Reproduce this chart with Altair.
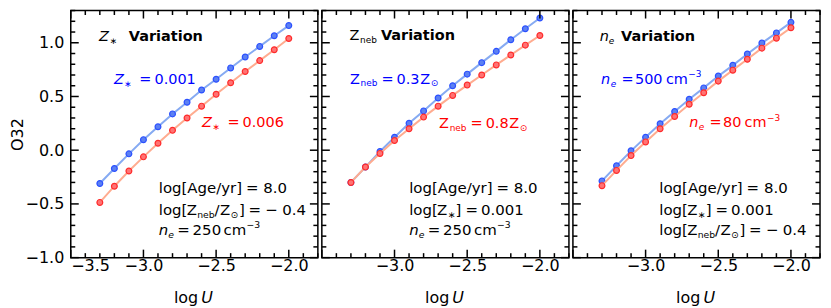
import altair as alt
import pandas as pd

FONT = "DejaVu Sans"

# ---------------- data ----------------
logU = [-3.3, -3.2, -3.1, -3.0, -2.9, -2.8, -2.7, -2.6, -2.5, -2.4, -2.3, -2.2, -2.1, -2.0]

zstar_0001 = [-0.31, -0.17, -0.034, 0.098, 0.218, 0.338, 0.446, 0.56, 0.66, 0.766, 0.868, 0.966, 1.065, 1.16]
zstar_0006 = [-0.486, -0.335, -0.194, -0.062, 0.065, 0.185, 0.30, 0.41, 0.52, 0.628, 0.732, 0.834, 0.935, 1.04]

zneb_03 = [-0.30, -0.157, -0.012, 0.12, 0.25, 0.366, 0.486, 0.60, 0.708, 0.815, 0.92, 1.028, 1.13, 1.23]
zneb_08 = [-0.30, -0.157, -0.03, 0.09, 0.20, 0.308, 0.41, 0.51, 0.606, 0.70, 0.794, 0.886, 0.978, 1.068]

ne_500 = [-0.286, -0.145, -0.006, 0.12, 0.246, 0.36, 0.474, 0.58, 0.69, 0.79, 0.895, 0.997, 1.092, 1.19]
ne_80 = [-0.33, -0.188, -0.05, 0.077, 0.20, 0.314, 0.428, 0.535, 0.643, 0.745, 0.846, 0.95, 1.043, 1.14]

x_labels_first = [-3.5, -3.0, -2.5, -2.0]
x_labels_rest = [-3.0, -2.5, -2.0]
y_labels = [-1.0, -0.5, 0.0, 0.5, 1.0]

x_major = [-3.5, -3.0, -2.5, -2.0]
x_minor = [-3.4, -3.3, -3.2, -3.1, -2.9, -2.8, -2.7, -2.6, -2.4, -2.3, -2.2, -2.1, -1.9, -1.8]
y_major = [-1.0, -0.5, 0.0, 0.5, 1.0]
y_minor = [-0.9, -0.8, -0.7, -0.6, -0.4, -0.3, -0.2, -0.1, 0.1, 0.2, 0.3, 0.4,
           0.6, 0.7, 0.8, 0.9, 1.1, 1.2, 1.3]

XDOM = [-3.5, -1.8]
YDOM = [-1.0, 1.3]

# ---------------- layout / style ----------------
W, H, TOP = 248, 248, 8
BLUE_LINE, BLUE_FILL, BLUE_EDGE = "#86aaf2", "#5c80f2", "#2b50ff"
RED_LINE, RED_FILL, RED_EDGE = "#ffac90", "#ff7373", "#ff2b2b"
MAJ, MIN, TW = 8, 4.5, 1.5
SUB = 0.62

ONE = pd.DataFrame({"k": [0]})


def txt(s, x, y, size, color, style="normal", weight="normal"):
    return alt.Chart(ONE).mark_text(
        align="left", baseline="alphabetic", font=FONT, fontSize=size,
        fontStyle=style, fontWeight=weight, color=color
    ).encode(x=alt.value(x), y=alt.value(y), text=alt.value(s))


def rich(x0, yabs, segs, size, color):
    y = yabs - TOP
    out = []
    for kind, s, dx in segs:
        fs, st, wt, dy = size, "normal", "normal", 0
        if kind in ("i", "isub"):
            st = "italic"
        if kind == "b":
            wt = "bold"
        if kind in ("sub", "isub"):
            fs, dy = size * SUB, size * 0.2
        if kind == "sup":
            fs, dy = size * SUB, -size * 0.45
        out.append(txt(s, x0 + dx, y + dy, fs, color, st, wt))
    return out


def age_line(x0, y):
    return rich(x0, y, [("n", "log[Age/yr]", 0), ("n", "=", 87.5), ("n", "8.0", 105)], 15, "black")


def zstar_line(x0, y):
    return rich(x0, y, [("n", "log[", 0), ("n", "Z", 28), ("sub", "∗", 38.8), ("n", "]", 46.5),
                        ("n", "=", 56.5), ("n", "0.001", 72)], 15, "black")


def zneb_line(x0, y):
    return rich(x0, y, [("n", "log[", 0), ("n", "Z", 28), ("sub", "neb", 38.6), ("n", "/", 56),
                        ("n", "Z", 61.5), ("sub", "⊙", 72), ("n", "]", 80.5), ("n", "=", 90),
                        ("n", "−", 107), ("n", "0.4", 124)], 15, "black")


def ne_line(x0, y):
    return rich(x0, y, [("i", "n", 0), ("isub", "e", 9.6), ("n", "=", 18.5), ("n", "250", 34),
                        ("n", "cm", 65), ("sup", "−3", 88)], 15, "black")


def panel(a_vals, b_vals, x_label_vals, show_y, texts):
    xs = alt.Scale(domain=XDOM, nice=False, zero=False)
    ys = alt.Scale(domain=YDOM, nice=False, zero=False)
    xaxis = alt.Axis(values=x_label_vals, format=".1f", title=None, ticks=False, tickSize=0,
                     domain=False, grid=False, labelPadding=0, labelFontSize=16,
                     labelFont=FONT, labelColor="black")
    if show_y:
        yaxis = alt.Axis(values=y_labels, format=".1f", title="O32", ticks=False, tickSize=0,
                         domain=False, grid=False, labelPadding=7, titlePadding=0,
                         labelFontSize=16, labelFont=FONT, labelColor="black",
                         titleFontSize=16, titleFont=FONT, titleFontWeight="normal",
                         titleColor="black")
    else:
        yaxis = None

    layers = []
    for vals, lc, fc, ec in ((a_vals, BLUE_LINE, BLUE_FILL, BLUE_EDGE),
                             (b_vals, RED_LINE, RED_FILL, RED_EDGE)):
        d = pd.DataFrame({"logU": logU, "O32": vals})
        enc = dict(x=alt.X("logU:Q", scale=xs, axis=xaxis),
                   y=alt.Y("O32:Q", scale=ys, axis=yaxis))
        layers.append(alt.Chart(d).mark_line(color=lc, strokeWidth=2).encode(**enc))
        layers.append(alt.Chart(d).mark_circle(size=34, fill=fc, stroke=ec, strokeWidth=1.2,
                                               opacity=1).encode(**enc))

    # inward ticks on all four sides
    for vals, L in ((x_minor, MIN), (x_major, MAJ)):
        d = pd.DataFrame({"v": vals})
        for a, b in ((H, H - L), (0, L)):
            layers.append(alt.Chart(d).mark_rule(color="black", strokeWidth=TW).encode(
                x=alt.X("v:Q", scale=xs, axis=xaxis), y=alt.value(a), y2=alt.value(b)))
    for vals, L in ((y_minor, MIN), (y_major, MAJ)):
        d = pd.DataFrame({"v": vals})
        for a, b in ((0, L), (W, W - L)):
            layers.append(alt.Chart(d).mark_rule(color="black", strokeWidth=TW).encode(
                y=alt.Y("v:Q", scale=ys, axis=yaxis), x=alt.value(a), x2=alt.value(b)))

    # x-axis title "log U"
    layers += rich(103.5, 302, [("n", "log", 0), ("i", "U", 27.5)], 16, "black")
    layers += texts
    return alt.layer(*layers).properties(width=W, height=H)


INFO_Y = (191.5, 213, 233.5)

t1 = (rich(0, 38.3, [("i", "Z", 28.3), ("sub", "∗", 39), ("b", "Variation", 58.3)], 14.5, "black")
      + rich(43.3, 81.7, [("i", "Z", 0), ("sub", "∗", 10.5), ("n", "=", 25.5), ("n", "0.001", 40.7)], 14.5, "blue")
      + rich(131.7, 125, [("i", "Z", 0), ("sub", "∗", 10.5), ("n", "=", 25.5), ("n", "0.006", 40.7)], 14.5, "red")
      + age_line(88.3, INFO_Y[0]) + zneb_line(88.3, INFO_Y[1]) + ne_line(88.3, INFO_Y[2]))

t2 = (rich(0, 38, [("n", "Z", 27.7), ("sub", "neb", 38.3), ("b", "Variation", 59.3)], 14.5, "black")
      + rich(28.3, 81.3, [("n", "Z", 0), ("sub", "neb", 10.6), ("n", "=", 31.5), ("n", "0.3", 46.7),
                          ("n", "Z", 70.4), ("sub", "⊙", 81)], 14.5, "blue")
      + rich(117.7, 126, [("n", "Z", 0), ("sub", "neb", 10.6), ("n", "=", 31.5), ("n", "0.8", 46.7),
                          ("n", "Z", 70.4), ("sub", "⊙", 81)], 14.5, "red")
      + age_line(87.7, INFO_Y[0]) + zstar_line(87.7, INFO_Y[1]) + ne_line(87.7, INFO_Y[2]))

t3 = (rich(0, 38.3, [("i", "n", 27), ("isub", "e", 36), ("b", "Variation", 48.3)], 14.5, "black")
      + rich(28.3, 81.7, [("i", "n", 0), ("isub", "e", 9.6), ("n", "=", 20.5), ("n", "500", 34),
                          ("n", "cm", 65), ("sup", "−3", 87.5)], 14.5, "blue")
      + rich(116.7, 125, [("i", "n", 0), ("isub", "e", 9.6), ("n", "=", 20.5), ("n", "80", 34),
                          ("n", "cm", 55.5), ("sup", "−3", 78)], 14.5, "red")
      + age_line(86.7, INFO_Y[0]) + zstar_line(86.7, INFO_Y[1]) + zneb_line(86.7, INFO_Y[2]))

p1 = panel(zstar_0001, zstar_0006, x_labels_first, True, t1)
p2 = panel(zneb_03, zneb_08, x_labels_rest, False, t2)
p3 = panel(ne_500, ne_80, x_labels_rest, False, t3)

chart = (
    alt.hconcat(p1, p2, p3, spacing=0)
    .properties(padding={"left": 0, "top": 0, "right": 1, "bottom": 0})
    .configure(font=FONT)
    .configure_view(stroke="black", strokeWidth=1.5)
    .configure_axis(labelFont=FONT, labelFontSize=16, labelColor="black",
                    titleFont=FONT, titleFontSize=16, titleFontWeight="normal",
                    titleColor="black")
)

chart.save("out.html", embed_options={"renderer": "svg", "actions": False})
